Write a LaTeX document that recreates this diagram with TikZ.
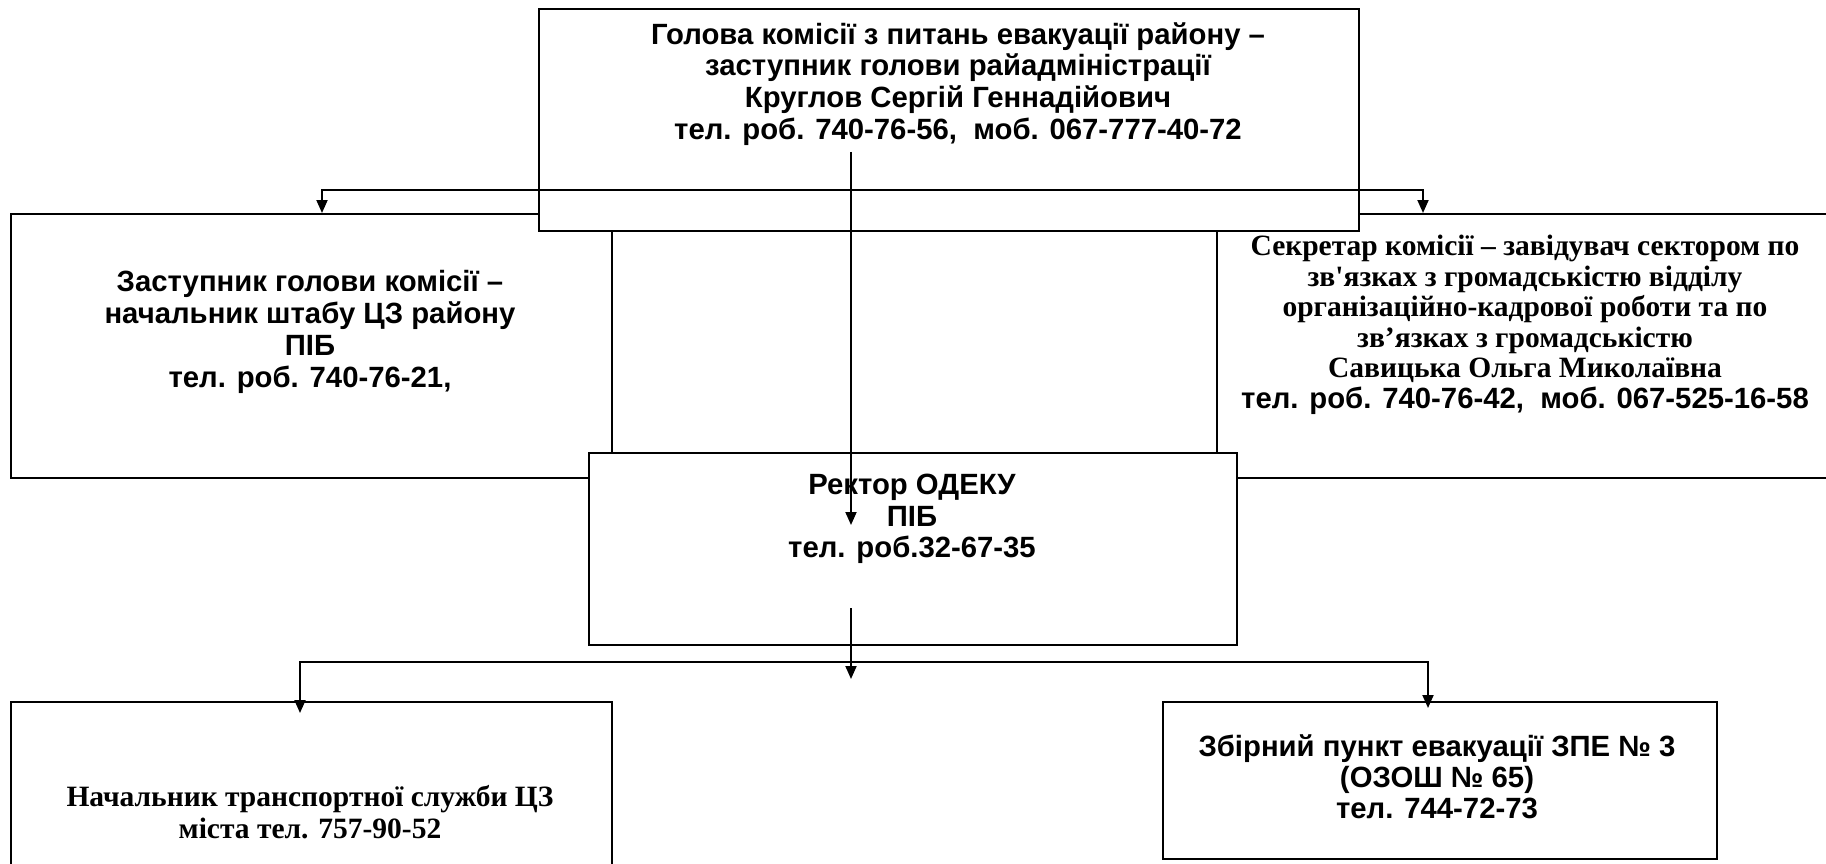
\documentclass[tikz,border=0pt]{standalone}
\usepackage{fontspec}
\newfontfamily\arb{Liberation Sans}
\newfontfamily\tnr{Liberation Serif}
\usetikzlibrary{arrows.meta}
\tikzset{
  box/.style={draw=black, line width=2pt, fill=white, inner sep=0pt, anchor=north west},
  atext/.style={align=center, inner sep=0pt, font=\arb\bfseries\fontsize{29.3}{31.8}\selectfont},
  ttext/.style={align=center, inner sep=0pt, font=\tnr\bfseries\fontsize{29.5}{32.6}\selectfont},
  conn/.style={line width=1.9pt, draw=black},
  tip/.style={-{Triangle[length=13pt,width=11pt]}},
  tips/.style={{Triangle[length=13pt,width=11pt]}-{Triangle[length=13pt,width=11pt]}}
}
\begin{document}
\begin{tikzpicture}[x=1pt,y=-1pt]
\useasboundingbox (0,0) rectangle (1826,864);
\clip (0,0) rectangle (1826,864);
\fill[white] (0,0) rectangle (1826,864);
% side boxes
\node[box, minimum width=601pt, minimum height=264pt] (leftbox) at (10,213) {};
\node[box, minimum width=640pt, minimum height=264pt] (rightbox) at (1216,213) {};
\node[atext] (lefttext) at (310,332) {Заступник голови комісії –\\начальник штабу ЦЗ району\\ПІБ\\тел. роб. 740-76-21,};
\node[align=center, inner sep=0pt, font=\tnr\bfseries\fontsize{29.5}{30.5}\selectfont] (righttext) at (1525,325) {Секретар комісії – завідувач сектором по\\зв'язках з громадськістю відділу\\організаційно-кадрової роботи та по\\зв’язках з громадськістю\\Савицька Ольга Миколаївна\\\arb\bfseries\fontsize{29.3}{30.5}\selectfont тел. роб. 740-76-42,\ \ моб. 067-525-16-58};
% top box
\node[box, minimum width=820pt, minimum height=222pt] (topbox) at (538,8) {};
\node[atext] (toptext) at (958,84) {Голова комісії з питань евакуації району –\\заступник голови райадміністрації\\Круглов Сергій Геннадійович\\тел. роб. 740-76-56,\ \ моб. 067-777-40-72};
% rector
\node[box, minimum width=648pt, minimum height=192pt] (rector) at (588,452) {};
\node[atext, font=\arb\bfseries\fontsize{29.3}{31.4}\selectfont] (rectortext) at (912,519) {Ректор ОДЕКУ\\ПІБ\\тел. роб.32-67-35};
% bottom boxes
\node[box, minimum width=601pt, minimum height=200pt] (botleft) at (10,701) {};
\node[ttext] (botlefttext) at (310,812) {Начальник транспортної служби ЦЗ\\міста тел. 757-90-52};
\node[box, minimum width=554pt, minimum height=157pt] (botright) at (1162,701) {};
\node[atext, font=\arb\bfseries\fontsize{29.3}{31}\selectfont] (botrighttext) at (1437,777) {Збірний пункт евакуації ЗПЕ № 3\\(ОЗОШ № 65)\\тел. 744-72-73};
% connector points
\coordinate (s1) at (851,152);
\coordinate (e1) at (851,525);
\coordinate (j1) at (322,190);
\coordinate (j2) at (1423,190);
\coordinate (s2) at (851,608);
\coordinate (e2) at (851,679);
\coordinate (k1) at (300,662);
\coordinate (k2) at (1428,662);
\coordinate (t1) at (300,713);
\coordinate (t2) at (1428,708);
% connectors
\draw[conn, tip] (s1) -- (e1);
\draw[conn, tips] (leftbox.north -| j1) -- (j1) -- (j2) -- (rightbox.north -| j2);
\draw[conn, tip] (s2) -- (e2);
\draw[conn, tips] (t1) -- (k1) -- (k2) -- (t2);
\end{tikzpicture}
\end{document}
